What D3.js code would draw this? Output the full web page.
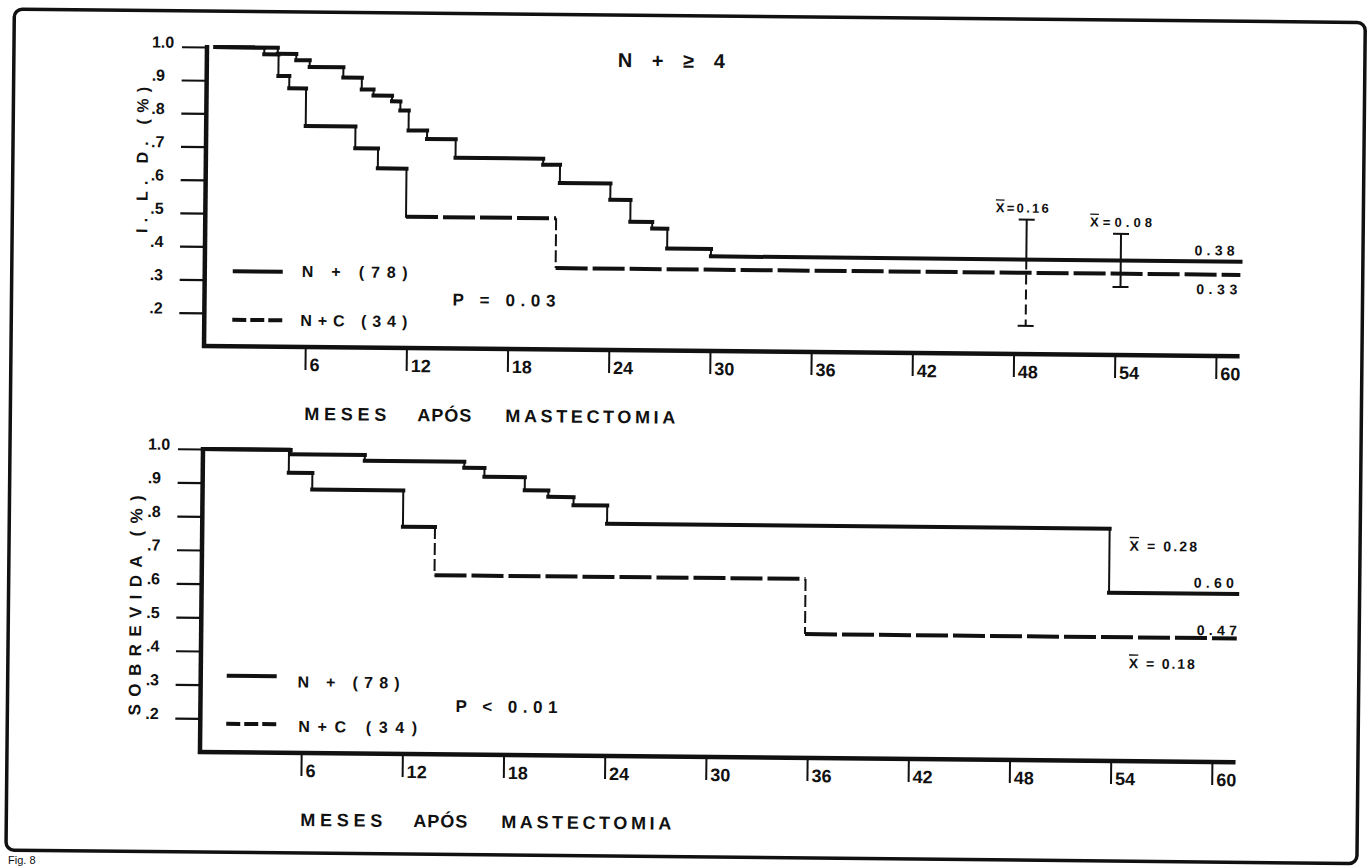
<!DOCTYPE html>
<html>
<head>
<meta charset="utf-8">
<title>N + ≥ 4 — I.L.D. e sobrevida</title>
<script src="https://d3js.org/d3.v7.min.js" charset="utf-8"></script>
<style>
  html, body { margin: 0; padding: 0; background: #fff; }
  svg { display: block; }
  text { font-family: "Liberation Sans", Arial, sans-serif; font-weight: bold; fill: #111; }
</style>
</head>
<body>
<script>
// months after mastectomy where each curve steps, and the level it drops to
const ildMonthsN  = [0.5, 4.2, 5.3, 6.1, 8.1, 9.2, 9.9, 11.0, 11.5, 12.0, 13.1, 14.8, 20.0, 21.0, 24.0, 25.2, 26.5, 27.4, 30.0];
const ildLevelsN  = [1.0, 0.982, 0.963, 0.943, 0.912, 0.877, 0.859, 0.842, 0.815, 0.755, 0.73, 0.674, 0.656, 0.601, 0.552, 0.487, 0.467, 0.407, 0.385];
const ildMonthsNC = [0.5, 3.4, 4.25, 4.9, 5.9, 8.85, 10.2, 11.9, 20.8];
const ildLevelsNC = [1.0, 0.98, 0.915, 0.878, 0.765, 0.70, 0.64, 0.495, 0.345];

const sobMonthsN  = [0, 5.2, 9.6, 15.5, 16.7, 19.1, 20.5, 22.0, 24.0, 53.8];
const sobLevelsN  = [1.0, 0.987, 0.97, 0.952, 0.926, 0.887, 0.868, 0.844, 0.79, 0.60];
const sobMonthsNC = [0, 5.1, 6.5, 11.9, 13.8, 35.8];
const sobLevelsNC = [1.0, 0.932, 0.883, 0.775, 0.632, 0.468];

// error bars on the I.L.D. panel (mean ± half width)
const barMonths = [48.7, 54.3];
const barMeans  = [0.345, 0.385];
const barHalf   = [0.16, 0.08];
const barLabels = ["=0.16", "=0.08"];

const xTicks = [6, 12, 18, 24, 30, 36, 42, 48, 54, 60];
const yTicks = [1.0, 0.9, 0.8, 0.7, 0.6, 0.5, 0.4, 0.3, 0.2];
const endMonth = 61.4;

const W = 1367, H = 866;
const ink = "#111";

const svg = d3.select("body").append("svg")
    .attr("width", W)
    .attr("height", H);

// the scan is slightly tilted, so everything sits in one rotated group
const root = svg.append("g").attr("transform", "rotate(0.57,204,347)");

root.append("rect")
    .attr("x", 11).attr("y", 11)
    .attr("width", 1351).attr("height", 841)
    .attr("rx", 8)
    .attr("fill", "none")
    .attr("stroke", ink)
    .attr("stroke-width", 3.5);

const x = d3.scaleLinear().domain([0, 60]).range([204, 1216]);

function panel(yRange) {
    const y = d3.scaleLinear().domain([0.1, 1.0]).range(yRange);
    const g = root.append("g");
    const y0 = y(0.1);

    // y ticks
    g.append("g")
        .attr("transform", `translate(${x(0)},0)`)
        .call(d3.axisLeft(y).tickValues(yTicks).tickSize(25).tickSizeOuter(0)
            .tickFormat(d => d === 1 ? "1.0" : "." + Math.round(d * 10)))
        .attr("font-size", 16)
        .attr("font-family", null)
        .call(a => a.select(".domain").remove())
        .call(a => a.selectAll("line").attr("stroke", ink).attr("stroke-width", 2.2))
        .call(a => a.selectAll("text")
            .attr("x", -55).attr("y", -5).attr("dy", "0.35em")
            .attr("text-anchor", "start")
            .attr("fill", ink));

    // x ticks
    g.append("g")
        .attr("transform", `translate(0,${y0})`)
        .call(d3.axisBottom(x).tickValues(xTicks).tickSize(23).tickSizeOuter(0))
        .attr("font-size", 18)
        .attr("font-family", null)
        .call(a => a.select(".domain").remove())
        .call(a => a.selectAll("line").attr("stroke", ink).attr("stroke-width", 2))
        .call(a => a.selectAll("text")
            .attr("x", 4).attr("y", 24).attr("dy", 0)
            .attr("text-anchor", "start")
            .attr("fill", ink));

    // axis lines
    g.append("line")
        .attr("x1", x(0)).attr("x2", x(0))
        .attr("y1", y(1.0) - 2).attr("y2", y0 + 2)
        .attr("stroke", ink).attr("stroke-width", 4.5);
    g.append("line")
        .attr("x1", x(0) - 2).attr("x2", x(endMonth))
        .attr("y1", y0).attr("y2", y0)
        .attr("stroke", ink).attr("stroke-width", 4.5);

    // x title
    const words = [["MESES", 305, 82], ["APÓS", 418, 54], ["MASTECTOMIA", 506, 170]];
    g.selectAll(null).data(words).join("text")
        .attr("x", d => d[1])
        .attr("y", y0 + 73)
        .attr("font-size", 18)
        .attr("textLength", d => d[2])
        .attr("lengthAdjust", "spacing")
        .text(d => d[0]);

    return { g, y };
}

function steps(p, months, levels, dashFrom) {
    const segs = [];
    months.forEach((m, i) => {
        const next = i < months.length - 1 ? months[i + 1] : endMonth;
        segs.push({ a: m, b: next, v1: levels[i], v2: levels[i], h: true, dash: dashFrom != null && m >= dashFrom });
        if (i < months.length - 1) {
            segs.push({ a: next, b: next, v1: levels[i], v2: levels[i + 1], h: false, dash: dashFrom != null && next > dashFrom });
        }
    });
    p.g.append("g").selectAll("line").data(segs).join("line")
        .attr("x1", d => x(d.a)).attr("x2", d => x(d.b))
        .attr("y1", d => p.y(d.v1)).attr("y2", d => p.y(d.v2))
        .attr("stroke", ink)
        .attr("stroke-width", d => d.h ? 4 : 2)
        .attr("stroke-linecap", d => d.dash ? "butt" : "square")
        .attr("stroke-dasharray", d => d.dash ? (d.h ? "32,5" : "12,4") : null);
}

function legend(p, x0, ySolid, yDash, labels, pText) {
    p.g.append("line")
        .attr("x1", x0).attr("x2", x0 + 50)
        .attr("y1", ySolid).attr("y2", ySolid)
        .attr("stroke", ink).attr("stroke-width", 4);
    p.g.append("line")
        .attr("x1", x0).attr("x2", x0 + 50)
        .attr("y1", yDash).attr("y2", yDash)
        .attr("stroke", ink).attr("stroke-width", 4)
        .attr("stroke-dasharray", "14,4");
    labels.forEach(l => {
        p.g.append("text")
            .attr("x", l.x).attr("y", l.y)
            .attr("font-size", 16)
            .attr("textLength", l.w).attr("lengthAdjust", "spacing")
            .text(l.t);
    });
    p.g.append("text")
        .attr("x", pText.x).attr("y", pText.y)
        .attr("font-size", 17)
        .attr("textLength", pText.w).attr("lengthAdjust", "spacing")
        .text(pText.t);
}

function xbar(sel, xPos, yPos, rest, size, width) {
    const t = sel.append("text")
        .attr("x", xPos).attr("y", yPos)
        .attr("font-size", size)
        .attr("textLength", width).attr("lengthAdjust", "spacing");
    t.append("tspan").style("text-decoration", "overline").text("X");
    t.append("tspan").text(rest);
}

// ---------- upper panel: I.L.D. ----------
const ild = panel([346, 47]);

ild.g.append("text")
    .attr("x", 615).attr("y", 63)
    .attr("font-size", 20)
    .attr("textLength", 107).attr("lengthAdjust", "spacing")
    .text("N + ≥ 4");

ild.g.append("text")
    .attr("transform", "translate(146,160.6) rotate(-90)")
    .attr("text-anchor", "middle")
    .attr("font-size", 16)
    .attr("textLength", 146).attr("lengthAdjust", "spacing")
    .text("I. L. D. (%)");

steps(ild, ildMonthsNC, ildLevelsNC, 11.9);
steps(ild, ildMonthsN, ildLevelsN, null);

legend(ild, 232, 271, 319.5,
    [{ t: "N + (78)", x: 301, y: 276, w: 106 }, { t: "N+C (34)", x: 300, y: 325, w: 107 }],
    { t: "P = 0.03", x: 452, y: 303, w: 103 });

// error bars
barMonths.forEach((m, i) => {
    const bx = x(m);
    const yTop = ild.y(barMeans[i] + barHalf[i]);
    const yBot = ild.y(barMeans[i] - barHalf[i]);
    const cg = ild.g.append("g").attr("stroke", ink).attr("stroke-width", 2);
    if (i === 0) {
        // upper part solid down to the N+ line, lower part dashed
        const yMid = ild.y(barMeans[1]);
        cg.append("line").attr("x1", bx).attr("x2", bx).attr("y1", yTop).attr("y2", yMid);
        cg.append("line").attr("x1", bx).attr("x2", bx).attr("y1", yMid).attr("y2", yBot)
            .attr("stroke-dasharray", "10,5");
    } else {
        cg.append("line").attr("x1", bx).attr("x2", bx).attr("y1", yTop).attr("y2", yBot);
    }
    cg.append("line").attr("x1", bx - 8).attr("x2", bx + 8).attr("y1", yTop).attr("y2", yTop);
    cg.append("line").attr("x1", bx - 8).attr("x2", bx + 8).attr("y1", yBot).attr("y2", yBot);
    xbar(ild.g, bx - 31, yTop - 7, barLabels[i], 13, i === 0 ? 53 : 62);
});

ild.g.append("text")
    .attr("x", x(endMonth) - 6).attr("y", ild.y(0.385) - 6)
    .attr("text-anchor", "end").attr("font-size", 14)
    .attr("textLength", 40).attr("lengthAdjust", "spacing")
    .text("0.38");
ild.g.append("text")
    .attr("x", x(endMonth) - 3).attr("y", ild.y(0.345) + 19.5)
    .attr("text-anchor", "end").attr("font-size", 14)
    .attr("textLength", 41).attr("lengthAdjust", "spacing")
    .text("0.33");

// ---------- lower panel: sobrevida ----------
const sob = panel([752, 449]);

sob.g.append("text")
    .attr("transform", "translate(144,606) rotate(-90)")
    .attr("text-anchor", "middle")
    .attr("font-size", 17)
    .attr("textLength", 220).attr("lengthAdjust", "spacing")
    .text("SOBREVIDA (%)");

steps(sob, sobMonthsNC, sobLevelsNC, 13.7);
steps(sob, sobMonthsN, sobLevelsN, null);

legend(sob, 230, 675.5, 723.5,
    [{ t: "N + (78)", x: 301, y: 686.5, w: 102 }, { t: "N+C (34)", x: 302, y: 731, w: 119 }],
    { t: "P < 0.01", x: 459, y: 709.5, w: 102 });

xbar(sob.g, 1131.5, sob.y(0.60) - 42, " = 0.28", 14, 67.5);
sob.g.append("text")
    .attr("x", x(endMonth) - 3.5).attr("y", sob.y(0.60) - 6)
    .attr("text-anchor", "end").attr("font-size", 14)
    .attr("textLength", 40).attr("lengthAdjust", "spacing")
    .text("0.60");
sob.g.append("text")
    .attr("x", x(endMonth)).attr("y", sob.y(0.468) - 3)
    .attr("text-anchor", "end").attr("font-size", 14)
    .attr("textLength", 40).attr("lengthAdjust", "spacing")
    .text("0.47");
xbar(sob.g, 1132, sob.y(0.468) + 31, " = 0.18", 14, 66);

// caption below the frame, squeezed in so it stays inside the picture
svg.append("text")
    .attr("x", 8).attr("y", 864)
    .attr("font-size", 11)
    .style("font-weight", "normal")
    .text("Fig. 8");
</script>
</body>
</html>
